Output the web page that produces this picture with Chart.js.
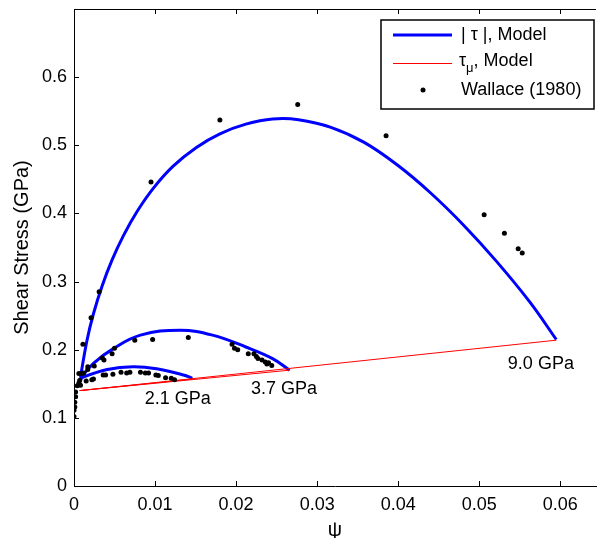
<!DOCTYPE html>
<html>
<head>
<meta charset="utf-8">
<script src="https://cdn.jsdelivr.net/npm/chart.js@4.4.0/dist/chart.umd.min.js"></script>
<style>
  html, body { margin: 0; padding: 0; background: #fff; overflow: hidden; }
  #wrap { width: 600px; height: 538px; }
</style>
</head>
<body>
<div id="wrap"><canvas id="chartjs" width="600" height="538"></canvas></div>
<script>
// |tau| model curves, one per pressure
const psi21 = [0.0007, 0.0012, 0.0041, 0.0073, 0.0102, 0.0135, 0.0146]
const tau21 = [0.155, 0.160, 0.171, 0.175, 0.172, 0.163, 0.158]

const psi37 = [0.0006, 0.0024, 0.0049, 0.0082, 0.0131, 0.0171, 0.0212, 0.0245, 0.0266]
const tau37 = [0.155, 0.180, 0.202, 0.2214, 0.2287, 0.2214, 0.204, 0.187, 0.170]

const psi90 = [0.0008, 0.0016, 0.0024, 0.0035, 0.0047, 0.0061, 0.0078, 0.0098, 0.0122, 0.0151, 0.0180, 0.0212, 0.0245, 0.0277, 0.0317, 0.0358, 0.0399, 0.0440, 0.0481, 0.0521, 0.0562, 0.0595]
const tau90 = [0.160, 0.2136, 0.2528, 0.2946, 0.3318, 0.3675, 0.4032, 0.4372, 0.4691, 0.4969, 0.5169, 0.531, 0.5386, 0.5376, 0.5264, 0.5043, 0.471, 0.430, 0.3824, 0.330, 0.2705, 0.215]

// tau_mu model: straight segments from the common start to each curve end
const muStart = [0.0007, 0.140]
const muEndPsi = [0.0146, 0.0266, 0.0595]
const muEndTau = [0.157, 0.170, 0.214]

// Wallace (1980) points
const wallacePsi = [
  0.0276, 0.0180, 0.0385, 0.0095, 0.0506, 0.0531, 0.0548, 0.0553, 0.0031, 0.0021, 0.0011,
  0.0075, 0.0097, 0.0141, 0.0195, 0.0198, 0.0202, 0.0215, 0.0222, 0.0225, 0.0227, 0.0232,
  0.0236, 0.0238, 0.0240, 0.0244, 0.0050, 0.0047, 0.0037, 0.0035, 0.0025, 0.0017, 0.0017,
  0.0124, 0.0120, 0.0113, 0.0104, 0.0101, 0.0092, 0.0088, 0.0082, 0.0069, 0.0065, 0.0058,
  0.0048, 0.0039, 0.0036, 0.0024, 0.0022, 0.0015,
  0.0000, 0.0000, 0.0001, 0.0001, 0.0002, 0.0002, 0.0004, 0.0006, 0.0007, 0.0006, 0.0009,
  0.0012, 0.0008
]
const wallaceTau = [
  0.560, 0.537, 0.514, 0.446, 0.398, 0.371, 0.348, 0.342, 0.285, 0.247, 0.208,
  0.214, 0.215, 0.218, 0.208, 0.202, 0.200, 0.194, 0.194, 0.190, 0.187, 0.185,
  0.182, 0.179, 0.181, 0.177, 0.202, 0.194, 0.185, 0.188, 0.176, 0.175, 0.171,
  0.156, 0.158, 0.159, 0.162, 0.163, 0.166, 0.166, 0.167, 0.167, 0.166, 0.167,
  0.164, 0.163, 0.163, 0.157, 0.156, 0.154,
  0.102, 0.111, 0.116, 0.123, 0.131, 0.138, 0.147, 0.151, 0.155, 0.165, 0.165,
  0.166, 0.148
]

// pressure annotations (data coords)
const pressureText = ['2.1 GPa', '3.7 GPa', '9.0 GPa']
const pressurePsi = [0.0128, 0.0259, 0.0576]
const pressureTau = [0.128, 0.142, 0.179]

const xTicks = [0, 0.01, 0.02, 0.03, 0.04, 0.05, 0.06]
const yTicks = [0, 0.1, 0.2, 0.3, 0.4, 0.5, 0.6]

const FONT = '"Liberation Sans", Arial, sans-serif'

function pts(xs, ys) {
  return xs.map((x, i) => ({ x: x, y: ys[i] }))
}

const blue = { borderColor: '#0000ff', borderWidth: 3, showLine: true, pointRadius: 0, tension: 0.4, order: 3 }
const red = { borderColor: '#ff0000', borderWidth: 1, showLine: true, pointRadius: 0, order: 2 }

const datasets = [
  Object.assign({ data: pts(psi21, tau21) }, blue),
  Object.assign({ data: pts(psi37, tau37) }, blue),
  Object.assign({ data: pts(psi90, tau90) }, blue),
]
muEndPsi.forEach((p, i) => {
  datasets.push(Object.assign({ data: [{ x: muStart[0], y: muStart[1] }, { x: p, y: muEndTau[i] }] }, red))
})
datasets.push({
  data: pts(wallacePsi, wallaceTau),
  showLine: false,
  pointRadius: 2.5,
  pointBackgroundColor: '#000',
  pointBorderWidth: 0,
  order: 1
})

// frame top line, inward ticks, annotations and legend
const decorations = {
  id: 'decorations',
  afterDraw(chart) {
    const ctx = chart.ctx
    const a = chart.chartArea
    const xs = chart.scales.x, ys = chart.scales.y
    ctx.save()
    ctx.strokeStyle = '#000'
    ctx.lineWidth = 1
    ctx.beginPath()
    ctx.moveTo(a.left, a.top + 0.5)
    ctx.lineTo(a.right, a.top + 0.5)
    xTicks.forEach(v => {
      const px = Math.round(xs.getPixelForValue(v)) + 0.5
      ctx.moveTo(px, a.bottom)
      ctx.lineTo(px, a.bottom - 5)
      ctx.moveTo(px, a.top)
      ctx.lineTo(px, a.top + 5)
    })
    yTicks.forEach(v => {
      const py = Math.round(ys.getPixelForValue(v)) + 0.5
      ctx.moveTo(a.left, py)
      ctx.lineTo(a.left + 5, py)
    })
    ctx.stroke()

    ctx.fillStyle = '#000'
    ctx.font = '18px ' + FONT
    ctx.textAlign = 'center'
    ctx.textBaseline = 'middle'
    pressureText.forEach((t, i) => {
      ctx.fillText(t, xs.getPixelForValue(pressurePsi[i]), ys.getPixelForValue(pressureTau[i]))
    })

    // legend box
    ctx.fillStyle = '#fff'
    ctx.fillRect(381, 20, 213, 89)
    ctx.strokeStyle = '#000'
    ctx.lineWidth = 1.5
    ctx.strokeRect(381, 20, 213, 89)

    ctx.strokeStyle = '#0000ff'
    ctx.lineWidth = 3
    ctx.beginPath(); ctx.moveTo(393, 35); ctx.lineTo(452, 35); ctx.stroke()
    ctx.strokeStyle = '#ff0000'
    ctx.lineWidth = 1
    ctx.beginPath(); ctx.moveTo(393, 63.5); ctx.lineTo(452, 63.5); ctx.stroke()
    ctx.fillStyle = '#000'
    ctx.beginPath(); ctx.arc(423, 90, 2.5, 0, Math.PI * 2); ctx.fill()

    ctx.textAlign = 'left'
    ctx.font = '18px ' + FONT
    ctx.fillText('| \u03c4 |, Model', 461, 35)
    ctx.fillText('\u03c4', 459, 61)
    const w = ctx.measureText('\u03c4').width
    ctx.font = '13px ' + FONT
    ctx.fillText('\u03bc', 459 + w, 68)
    const w2 = ctx.measureText('\u03bc').width
    ctx.font = '18px ' + FONT
    ctx.fillText(', Model', 459 + w + w2, 61)
    ctx.fillText('Wallace (1980)', 461, 90)
    ctx.restore()
  }
}

function noPad(s) {
  s.paddingTop = 0
  s.paddingBottom = 0
  s.paddingLeft = 0
  s.paddingRight = 0
}

const ctx = document.getElementById('chartjs').getContext('2d')
const myChart = new Chart(ctx, {
  type: 'scatter',
  data: { datasets: datasets },
  plugins: [decorations],
  options: {
    responsive: false,
    animation: false,
    layout: { padding: { left: 0, top: 9, right: -2.5, bottom: 0 } },
    plugins: { legend: { display: false }, tooltip: { enabled: false } },
    scales: {
      x: {
        type: 'linear',
        min: 0,
        max: 0.0644,
        afterBuildTicks: s => { s.ticks = xTicks.map(v => ({ value: v })) },
        afterFit: s => { s.height = 52; noPad(s) },
        grid: { display: false, drawTicks: false },
        border: { display: true, color: '#000', width: 1 },
        ticks: { color: '#000', font: { family: FONT, size: 18 }, padding: 8, maxRotation: 0, callback: v => String(v) },
        title: { display: true, text: '\u03c8', color: '#000', font: { family: FONT, size: 20, lineHeight: 0.8 }, padding: 0 }
      },
      y: {
        type: 'linear',
        min: 0,
        max: 0.7,
        afterBuildTicks: s => { s.ticks = yTicks.map(v => ({ value: v })) },
        afterFit: s => { s.width = 74; noPad(s) },
        grid: { display: false, drawTicks: false },
        border: { display: true, color: '#000', width: 1 },
        ticks: { color: '#000', font: { family: FONT, size: 18 }, padding: 7, callback: v => String(v) },
        title: { display: true, text: 'Shear Stress (GPa)', color: '#000', font: { family: FONT, size: 20 }, padding: 10 }
      }
    }
  }
})
</script>
</body>
</html>
